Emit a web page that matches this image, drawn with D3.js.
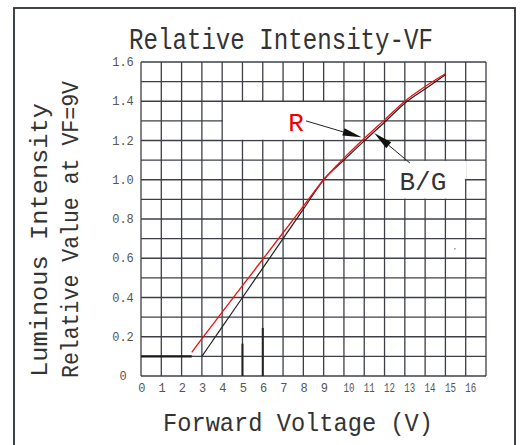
<!DOCTYPE html>
<html><head><meta charset="utf-8">
<script src="https://cdn.jsdelivr.net/npm/d3@7"></script>
<style>
html,body{margin:0;padding:0;background:#fff;}
text{font-family:"Liberation Mono","DejaVu Sans Mono",monospace;}
</style></head>
<body><svg id="c" width="520" height="445"></svg>
<script>
// ---- data ----
const xTicks = [0,1,2,3,4,5,6,7,8,9,10,11,12,13,14,15,16];
const yTicks = [0,0.2,0.4,0.6,0.8,1.0,1.2,1.4,1.6];
const yTickLabels = ["0","0.2","0.4","0.6","0.8","1.0","1.2","1.4","1.6"];
const redV = [2.5,3,4,5,6,7,8,9,10,11,12,13,14,15];
const redI = [0.12,0.19,0.325,0.46,0.595,0.73,0.865,1.0,1.11,1.21,1.305,1.40,1.475,1.54];
const bgV  = [3,4,5,6,7,8,9,10,11,12,13,14,15];
const bgI  = [0.1,0.25,0.4,0.55,0.7,0.85,1.0,1.10,1.198,1.293,1.39,1.463,1.535];
const floorV = [0,2.5];
const floorI = [0.1,0.1];
const title = "Relative Intensity-VF";
const xTitle = "Forward Voltage (V)";
const yTitle1 = "Luminous Intensity";
const yTitle2 = "Relative Value at VF=9V";

const svg = d3.select("#c");
const x = d3.scaleLinear().domain([0,17]).range([141,486]);
const y = d3.scaleLinear().domain([0,1.6]).range([376,62]);

// outer frame
svg.append("rect").attr("x",14).attr("y",8).attr("width",501).attr("height",460)
  .attr("fill","none").attr("stroke","#2b3036").attr("stroke-width",1.8);

// grid
const g = svg.append("g");
const vLines = d3.range(0,18);
const hLines = d3.range(0,17).map(d=>d/10);
g.selectAll(".v").data(vLines).join("line")
  .attr("x1",d=>x(d)).attr("x2",d=>x(d)).attr("y1",y(0)).attr("y2",y(1.6))
  .attr("stroke","#3c4046").attr("stroke-width",1.3);
g.selectAll(".h").data(hLines).join("line")
  .attr("x1",x(0)).attr("x2",x(17)).attr("y1",d=>y(d)).attr("y2",d=>y(d))
  .attr("stroke","#3c4046").attr("stroke-width",1.3);

// white label boxes (clear the grid)
const boxes = [[4,10,1.2,1.4],[12,16,0.9,1.1]];
g.selectAll(".box").data(boxes).join("rect")
  .attr("x",d=>x(d[0])+0.8).attr("y",d=>y(d[3])+0.8)
  .attr("width",d=>x(d[1])-x(d[0])-1.6).attr("height",d=>y(d[2])-y(d[3])-1.6)
  .attr("fill","#fff");
// B/G box right edge gap
g.append("rect").attr("x",x(16)-1).attr("y",y(1.1)+0.8).attr("width",2).attr("height",y(1.0)-y(1.1)-1.6).attr("fill","#fff");

// scan artifacts (darker segments)
const darkSegs = [[5,0.165],[6,0.245]];
g.selectAll(".ds").data(darkSegs).join("line")
  .attr("x1",d=>x(d[0])).attr("x2",d=>x(d[0])).attr("y1",y(0)).attr("y2",d=>y(d[1]))
  .attr("stroke","#222").attr("stroke-width",2);
g.append("circle").attr("cx",x(15.47)).attr("cy",y(0.648)).attr("r",0.7).attr("fill","#333");

// axes tick labels
svg.selectAll(".yt").data(yTicks).join("text")
  .attr("x",123).attr("y",d=>y(d)).attr("dy","0.35em")
  .attr("text-anchor","middle").attr("font-size",12).attr("fill","#555")
  .text((d,i)=>yTickLabels[i]);
svg.selectAll(".xt").data(xTicks).join("text")
  .attr("x",d=>x(d) + (String(d).length>1?5:0.8)).attr("y",392)
  .attr("text-anchor","middle").attr("font-size",12).attr("fill","#555")
  .each(function(d){ if(String(d).length>1){ d3.select(this).attr("textLength",11).attr("lengthAdjust","spacingAndGlyphs"); } })
  .text(d=>d);

// titles
svg.append("text").attr("x",129).attr("y",49).attr("font-size",29).attr("fill","#333")
  .attr("textLength",304).attr("lengthAdjust","spacingAndGlyphs").text(title);
svg.append("text").attr("x",163).attr("y",431).attr("font-size",26).attr("fill","#333")
  .attr("textLength",270).attr("lengthAdjust","spacingAndGlyphs").text(xTitle);
svg.append("text").attr("transform","translate(47,377) rotate(-90)").attr("font-size",23).attr("fill","#333")
  .attr("textLength",274).attr("lengthAdjust","spacingAndGlyphs").text(yTitle1);
svg.append("text").attr("transform","translate(78,378) rotate(-90)").attr("font-size",23).attr("fill","#333")
  .attr("textLength",297).attr("lengthAdjust","spacingAndGlyphs").text(yTitle2);

// curves
const line = d3.line().x(d=>x(d[0])).y(d=>y(d[1])).curve(d3.curveMonotoneX);
svg.append("path").datum(floorV.map((v,i)=>[v,floorI[i]])).attr("d",line)
  .attr("fill","none").attr("stroke","#1a1a1a").attr("stroke-width",2.2);
svg.append("path").datum(bgV.map((v,i)=>[v,bgI[i]])).attr("d",line)
  .attr("fill","none").attr("stroke","#222").attr("stroke-width",1.2);
svg.append("path").datum(redV.map((v,i)=>[v,redI[i]])).attr("d",line)
  .attr("fill","none").attr("stroke","#f01010").attr("stroke-width",1.3);

// annotations
const notes = [
  {label:"R", color:"#f00000", tx:7.64, ty:1.25, from:[8.13,1.30], to:[10.87,1.216]},
  {label:"B/G", color:"#333", tx:13.89, ty:0.949, from:[13.25,1.085], to:[11.49,1.238]}
];
notes.forEach(n=>{
  const x1=x(n.from[0]), y1=y(n.from[1]), x2=x(n.to[0]), y2=y(n.to[1]);
  const dx=x2-x1, dy=y2-y1, L=Math.hypot(dx,dy), ux=dx/L, uy=dy/L;
  const hl=19, hw=3.8;
  const bx=x2-ux*hl, by=y2-uy*hl;
  svg.append("line").attr("x1",x1).attr("y1",y1).attr("x2",bx).attr("y2",by)
    .attr("stroke","#222").attr("stroke-width",1);
  svg.append("path").attr("d",`M${x2},${y2}L${bx-uy*hw},${by+ux*hw}L${bx+uy*hw},${by-ux*hw}Z`)
    .attr("fill","#111");
  svg.append("text").attr("x",x(n.tx)).attr("y",y(n.ty)).attr("text-anchor","middle")
    .attr("font-size",26).attr("fill",n.color).text(n.label);
});
</script></body></html>
